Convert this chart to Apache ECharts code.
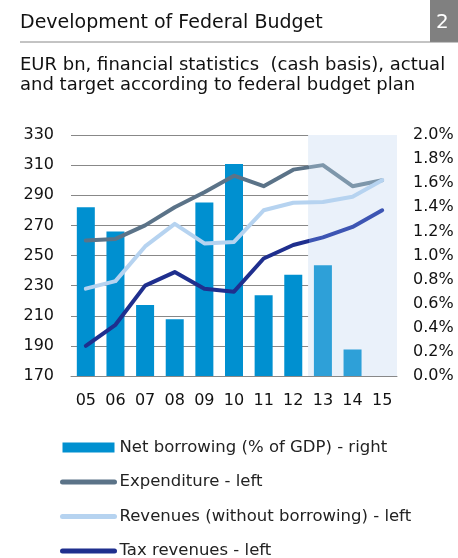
<!DOCTYPE html>
<html>
<head>
<meta charset="utf-8">
<script src="https://cdn.jsdelivr.net/npm/echarts@6/dist/echarts.min.js"></script>
<style>
  html, body { margin: 0; padding: 0; background: #fff; }
  #chart { width: 458px; height: 558px; }
</style>
</head>
<body>
<div id="chart"></div>
<script>
// years 2005 - 2015, 13-15 are target values
var years = ["05", "06", "07", "08", "09", "10", "11", "12", "13", "14", "15"];
var netBorrowing = [1.40, 1.20, 0.59, 0.47, 1.44, 1.76, 0.67, 0.84, 0.92, 0.22, null];
var expenditure = [260, 261, 270, 282, 292, 303, 296, 307, 310, 296, 300];
var revenues = [228, 233, 256, 271, 258, 259, 280, 285, 285.5, 289, 300];
var taxRevenues = [190, 204, 230, 239, 228, 226, 248, 257, 262, 269, 280];
var firstTarget = 8; // index of "13"

var font = "DejaVu Sans";
var chart = echarts.init(document.getElementById("chart"));

// shaded band behind the target years
var bandColors = years.map(function (y, i) {
  return i >= firstTarget ? "#eaf1fa" : "rgba(0,0,0,0)";
});

// line colour changes where the target years start
function splitColor(dark, light) {
  var f = (firstTarget - 0.5) / (years.length - 1);
  return new echarts.graphic.LinearGradient(0, 0, 1, 0, [
    { offset: 0, color: dark },
    { offset: f, color: dark },
    { offset: f, color: light },
    { offset: 1, color: light }
  ]);
}

var options = {
  backgroundColor: "#fff",
  textStyle: { fontFamily: font },
  animation: false,
  title: [
    {
      text: "Development of Federal Budget",
      left: 20,
      top: 14,
      padding: 0,
      textStyle: { fontFamily: font, fontSize: 19, fontWeight: "normal", color: "#111" }
    },
    {
      text: "EUR bn, financial statistics  (cash basis), actual\nand target according to federal budget plan",
      left: 20,
      top: 56,
      padding: 0,
      textStyle: { fontFamily: font, fontSize: 18, fontWeight: "normal", color: "#111", lineHeight: 19.5 }
    }
  ],
  graphic: [
    { type: "rect", left: 430, top: 0, shape: { width: 28, height: 42 }, style: { fill: "#808080" } },
    { type: "text", left: 436, top: 13, style: { text: "2", fill: "#fff", font: "20px DejaVu Sans" } },
    { type: "line", shape: { x1: 20, y1: 42, x2: 458, y2: 42 }, style: { stroke: "#888", lineWidth: 1 } }
  ],
  grid: { left: 71, right: 61, top: 135, bottom: 182, containLabel: false },
  legend: {
    orient: "vertical",
    left: 60,
    top: 439,
    height: 200,
    padding: 0,
    itemWidth: 52,
    itemHeight: 10,
    itemGap: 17.5,
    lineStyle: { width: 5, cap: "round" },
    textStyle: { fontFamily: font, fontSize: 16.5, color: "#222", lineHeight: 16 },
    data: [
      { name: "Net borrowing (% of GDP) - right", icon: "rect", itemStyle: { color: "#0090d0" } },
      { name: "Expenditure - left", itemStyle: { opacity: 0 }, lineStyle: { color: "#5b7388" } },
      { name: "Revenues (without borrowing) - left", itemStyle: { opacity: 0 }, lineStyle: { color: "#b6d3f0" } },
      { name: "Tax revenues - left", itemStyle: { opacity: 0 }, lineStyle: { color: "#1f2f8e" } }
    ]
  },
  xAxis: {
    type: "category",
    data: years,
    axisLine: { show: true, lineStyle: { color: "#888" } },
    axisTick: { show: false },
    axisLabel: { fontFamily: font, fontSize: 16, color: "#111", margin: 17 },
    splitArea: { show: true, areaStyle: { color: bandColors } }
  },
  yAxis: [
    {
      type: "value",
      min: 170,
      max: 330,
      interval: 20,
      axisLine: { show: false },
      axisTick: { show: false },
      axisLabel: { fontFamily: font, fontSize: 16, color: "#111", margin: 17 },
      splitLine: { show: true, lineStyle: { color: "#888", width: 1 } }
    },
    {
      type: "value",
      min: 0,
      max: 2,
      interval: 0.2,
      axisLine: { show: false },
      axisTick: { show: false },
      splitLine: { show: false },
      axisLabel: {
        fontFamily: font, fontSize: 16, color: "#111", margin: 16,
        formatter: function (v) { return v.toFixed(1) + "%"; }
      }
    }
  ],
  series: [
    {
      name: "Net borrowing (% of GDP) - right",
      type: "bar",
      yAxisIndex: 1,
      barWidth: 18,
      data: netBorrowing,
      itemStyle: {
        color: function (p) {
          return p.dataIndex >= firstTarget ? "#2ea0d8" : "#0090d0";
        }
      }
    },
    {
      name: "Expenditure - left",
      type: "line",
      symbol: "none",
      data: expenditure,
      itemStyle: { color: "#5b7388" },
      lineStyle: { width: 4, color: splitColor("#5b7388", "#7e97ab"), cap: "round", join: "round" },
      z: 3
    },
    {
      name: "Revenues (without borrowing) - left",
      type: "line",
      symbol: "none",
      data: revenues,
      itemStyle: { color: "#b6d3f0" },
      lineStyle: { width: 4, color: "#b6d3f0", cap: "round", join: "round" },
      z: 3
    },
    {
      name: "Tax revenues - left",
      type: "line",
      symbol: "none",
      data: taxRevenues,
      itemStyle: { color: "#1f2f8e" },
      lineStyle: { width: 4, color: splitColor("#1f2f8e", "#3d55b3"), cap: "round", join: "round" },
      z: 3
    }
  ]
};

chart.setOption(options);
</script>
</body>
</html>
